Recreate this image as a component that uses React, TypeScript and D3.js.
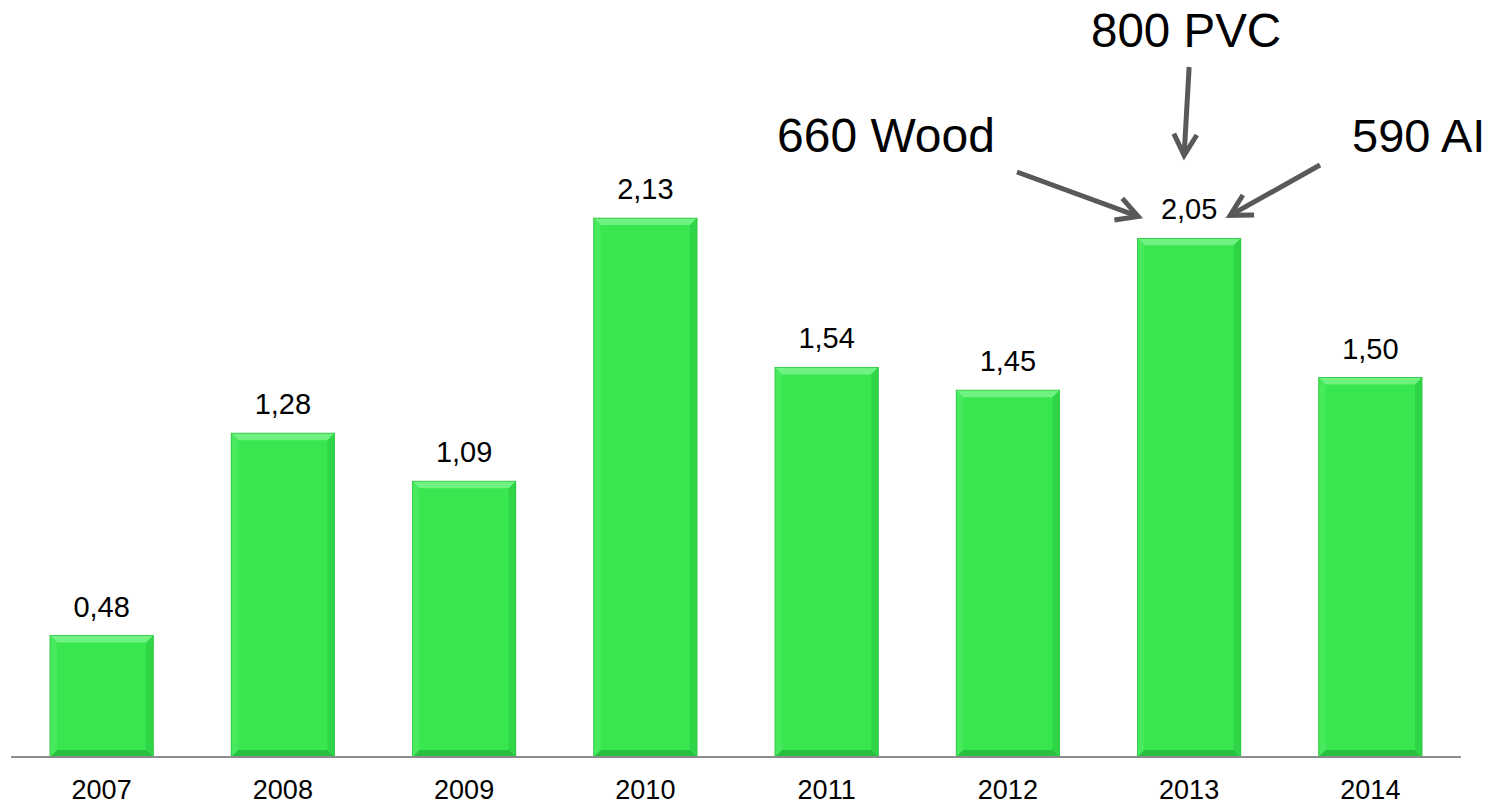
import React from "react";
import * as d3 from "d3";

const years = ["2007", "2008", "2009", "2010", "2011", "2012", "2013", "2014"];
const values = [0.48, 1.28, 1.09, 2.13, 1.54, 1.45, 2.05, 1.5];
const annotations = ["800 PVC", "660 Wood", "590 AI"];
const highlightYear = "2013";

const W = 1497;
const H = 806;
const baseY = 757;

function fmt(v: number) {
  return v.toFixed(2).replace(".", ",");
}

function arrowHead(x1: number, y1: number, x2: number, y2: number, len = 24, ang = 0.5) {
  const a = Math.atan2(y2 - y1, x2 - x1);
  const p1 = [x2 - len * Math.cos(a - ang), y2 - len * Math.sin(a - ang)];
  const p2 = [x2 - len * Math.cos(a + ang), y2 - len * Math.sin(a + ang)];
  return `M${p1[0]},${p1[1]} L${x2},${y2} L${p2[0]},${p2[1]}`;
}

export default function App() {
  const x = d3.scaleBand<string>().domain(years).range([11, 1461]).paddingInner(0.43).paddingOuter(0.215);
  const y = d3.scaleLinear().domain([0, 1]).range([baseY, baseY - 253]);
  const bw = x.bandwidth();
  const bev = 7;

  const cx = (x(highlightYear) as number) + bw / 2;
  const hv = values[years.indexOf(highlightYear)];
  const labelY = y(hv) - 19;

  const arrows = [
    { x1: cx, y1: 67, x2: cx - 5, y2: labelY - 64 },
    { x1: 1017, y1: 172, x2: cx - 51, y2: labelY - 3 },
    { x1: 1320, y1: 165, x2: cx + 41, y2: labelY - 4 },
  ];

  return (
    <svg width={W} height={H} style={{ position: "absolute", left: 0, top: 0, background: "#fff" }}
      fontFamily="Liberation Sans, Arial, sans-serif">
      {years.map((yr, i) => {
        const x0 = x(yr) as number;
        const x1 = x0 + bw;
        const y0 = y(values[i]);
        const y1 = baseY;
        return (
          <g key={yr}>
            <rect x={x0} y={y0} width={bw} height={y1 - y0} fill="#38e650" />
            <polygon points={`${x0},${y0} ${x1},${y0} ${x1 - bev},${y0 + bev} ${x0 + bev},${y0 + bev}`} fill="#6ff27f" />
            <polygon points={`${x0},${y0} ${x0 + bev},${y0 + bev} ${x0 + bev},${y1 - bev} ${x0},${y1}`} fill="#46ea5c" />
            <polygon points={`${x1},${y0} ${x1 - bev},${y0 + bev} ${x1 - bev},${y1 - bev} ${x1},${y1}`} fill="#30d447" />
            <polygon points={`${x0},${y1} ${x0 + bev},${y1 - bev} ${x1 - bev},${y1 - bev} ${x1},${y1}`} fill="#29c03f" />
            <rect x={x0} y={y0} width={bw} height={y1 - y0} fill="none" stroke="#2cc442" strokeWidth={0.8} />
            <text x={x0 + bw / 2} y={y0 - 19} textAnchor="middle" fontSize={29} fill="#000">
              {fmt(values[i])}
            </text>
            <text x={x0 + bw / 2} y={799} textAnchor="middle" fontSize={27} fill="#000">
              {yr}
            </text>
          </g>
        );
      })}
      <line x1={11} x2={1461} y1={baseY} y2={baseY} stroke="#8c8c8c" strokeWidth={2} />

      {arrows.map((a, i) => (
        <g key={i} stroke="#595959" strokeWidth={5} fill="none" strokeLinecap="butt" strokeLinejoin="miter">
          <line x1={a.x1} y1={a.y1} x2={a.x2} y2={a.y2} />
          <path d={arrowHead(a.x1, a.y1, a.x2, a.y2)} />
        </g>
      ))}

      <text x={1091} y={47} fontSize={47.5} fill="#000">{annotations[0]}</text>
      <text x={777} y={152} fontSize={48} fill="#000">{annotations[1]}</text>
      <text x={1352} y={152} fontSize={47} fill="#000">{annotations[2]}</text>
    </svg>
  );
}
